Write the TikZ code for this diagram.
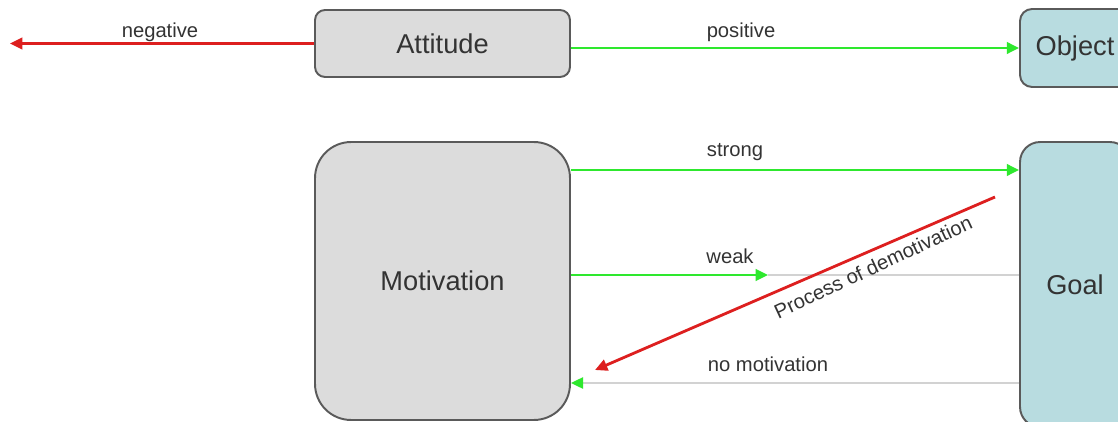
\documentclass[tikz,border=0pt]{standalone}
\usepackage{fontspec}
\setmainfont{Liberation Sans}
\usetikzlibrary{arrows.meta}
\definecolor{boxgray}{HTML}{DCDCDC}
\definecolor{boxblue}{HTML}{B8DCE0}
\definecolor{edgegray}{HTML}{5A5A5A}
\definecolor{lgreen}{HTML}{2EE82E}
\definecolor{lred}{HTML}{DD1F1F}
\definecolor{lgray}{HTML}{D2D2D2}
\definecolor{txt}{HTML}{333333}
\tikzset{
  box/.style={draw=edgegray, line width=1.1pt, text=txt, inner sep=0pt,
    font=\fontsize{15.5}{18}\selectfont},
  graybox/.style={box, fill=boxgray},
  bluebox/.style={box, fill=boxblue},
  lbl/.style={text=txt, font=\fontsize{11.5}{13}\selectfont, inner sep=0pt},
  tip/.style={-{Triangle[length=7pt,width=6.5pt]}},
  greenarrow/.style={tip, draw=lgreen, line width=1.6pt},
  redarrow/.style={tip, draw=lred, line width=1.6pt},
  grayline/.style={draw=lgray, line width=1pt},
}
\begin{document}
\begin{tikzpicture}[x=0.02cm,y=-0.02cm]
\useasboundingbox (0,0) rectangle (1118,422);
\clip (0,0) rectangle (1118,422);
\fill[white] (0,0) rectangle (1118,422);
% nodes
\node[graybox, rounded corners=0.2cm, minimum width=5.1cm, minimum height=1.34cm] (att) at (442.5,43.5) {Attitude};
\node[bluebox, rounded corners=0.24cm, minimum width=2.2cm, minimum height=1.56cm] (obj) at (1075,48) {Object};
\node[graybox, rounded corners=0.72cm, minimum width=5.1cm, minimum height=5.56cm] (mot) at (442.5,281) {Motivation};
\node[bluebox, rounded corners=0.4cm, minimum width=2.2cm, minimum height=5.7cm] (goal) at (1075,284.5) {Goal};
% free ends
\coordinate (negend) at (10,43.5);
\coordinate (weakend) at (768,275);
\coordinate (d1) at (995,197);
\coordinate (d2) at (595,370);
% connectors
\draw[redarrow] (att.west) -- (negend);
\draw[greenarrow] (att.east |- obj.west) -- (obj.west);
\draw[greenarrow] (mot.east |- 0,170) -- (goal.west |- 0,170);
\draw[grayline] (weakend) -- (goal.west |- weakend);
\draw[greenarrow] (mot.east |- weakend) -- (weakend);
\draw[grayline, -{Triangle[length=7pt,width=6.5pt,color=lgreen]}] (goal.west |- 0,383) -- (mot.east |- 0,383);
\draw[redarrow] (d1) -- (d2);
% labels
\node[lbl] (lneg) at (160,32) {negative};
\node[lbl] (lpos) at (741,32) {positive};
\node[lbl] (lstr) at (735,152) {strong};
\node[lbl] (lweak) at (730,256) {weak};
\node[lbl] (lno) at (768,364) {no motivation};
\node[lbl, rotate=25] (ldem) at (873,267) {Process of demotivation};
\end{tikzpicture}
\end{document}
